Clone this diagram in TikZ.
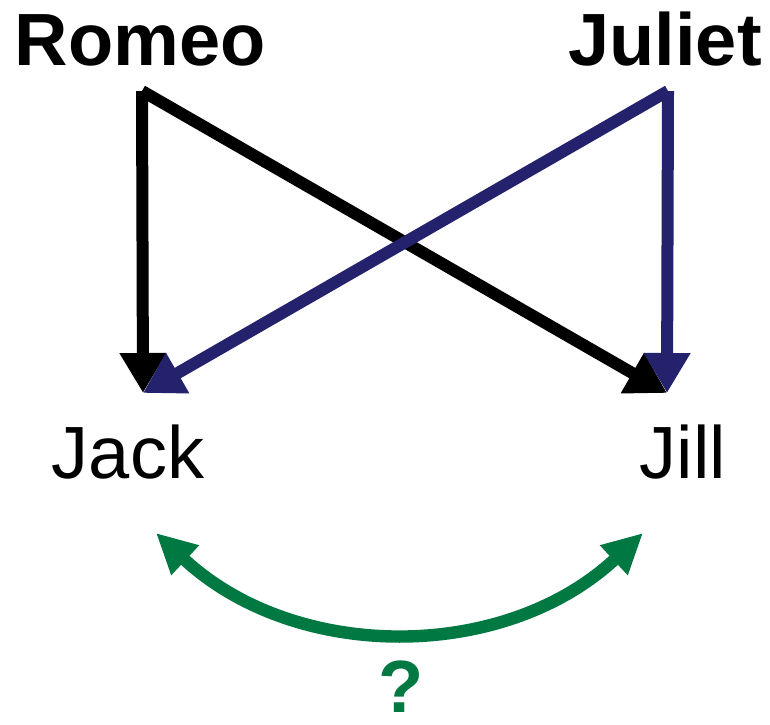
\documentclass[tikz,border=0pt]{standalone}
\usepackage{fontspec}
\setmainfont{Liberation Sans}
\usetikzlibrary{arrows.meta}
\definecolor{navy}{RGB}{36,34,108}
\definecolor{leaf}{RGB}{0,120,66}

\begin{document}
\begin{tikzpicture}[x=0.5pt,y=-0.5pt,
  parent/.style={inner sep=0pt,anchor=base,font=\fontsize{37}{44}\selectfont\bfseries},
  child/.style={inner sep=0pt,anchor=base,font=\fontsize{37}{44}\selectfont},
  link/.style={line width=6pt,-{Triangle[length=20pt,width=22pt]}},
  ask/.style={line width=6.2pt,leaf,{Triangle[length=20pt,width=19pt]}-{Triangle[length=20pt,width=19pt]}}
]
\useasboundingbox (0,0) rectangle (770,724);
\node[parent] (romeo)  at (140,65) {Romeo};
\node[parent] (juliet) at (665,65) {Juliet};
\node[child]  (jack)   at (128,478) {Jack};
\node[child]  (jill)   at (683,478) {Jill};
\node[parent,text=leaf] (q) at (401,712) {?};

\coordinate (rtop) at (142,91);
\coordinate (jtop) at (668,91);
\coordinate (jackin) at (143,393);
\coordinate (jillin) at (667,393);
\coordinate (jackout) at (156,533);
\coordinate (jillout) at (643,533);

\draw[link,black] (rtop)--(jackin);
\draw[link,black] (rtop)--(jillin);
\draw[link,navy] (jtop)--(jillin);
\draw[link,navy] (jtop)--(jackin);
\draw[ask] (jackout) to[bend right=43] (jillout);
\end{tikzpicture}
\end{document}
